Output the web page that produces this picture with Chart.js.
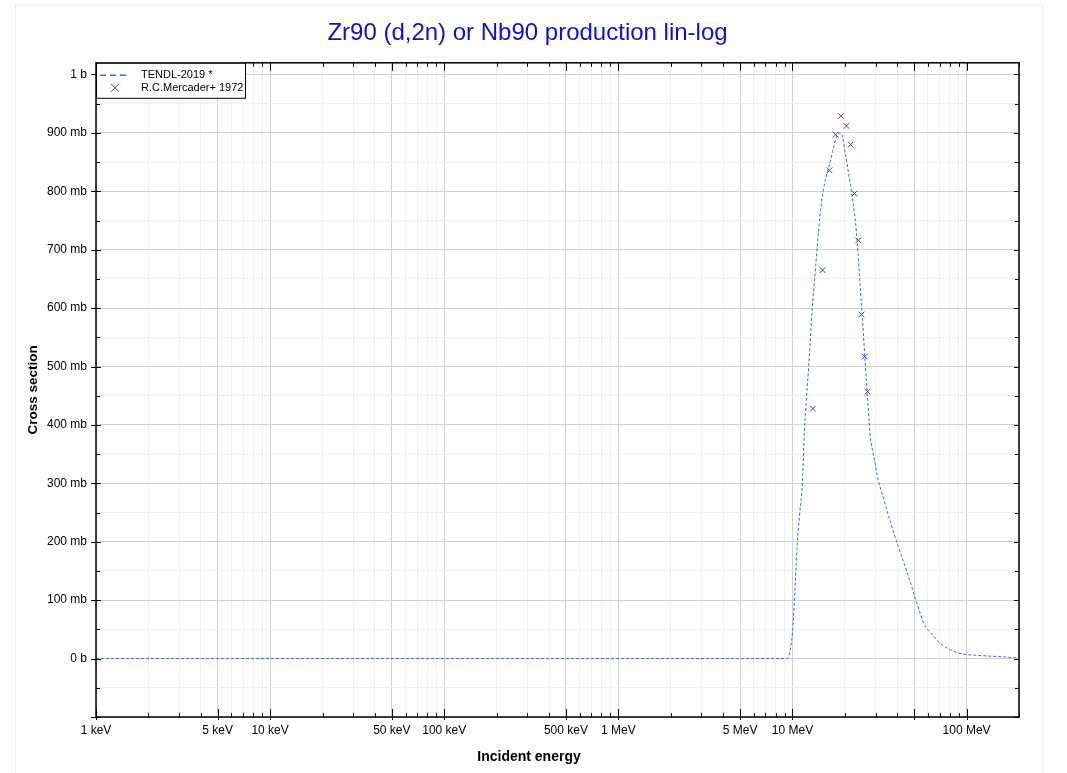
<!DOCTYPE html>
<html>
<head>
<meta charset="utf-8">
<title>Zr90 (d,2n) or Nb90 production lin-log</title>
<script src="https://cdn.jsdelivr.net/npm/chart.js@4"></script>
<style>
  html, body { margin: 0; padding: 0; background: #fff; }
  #moldura { position: absolute; left: 15px; top: 4px; width: 1026px; height: 790px; border: 1px solid #eeeeee; }
  #caixa { position: absolute; left: 0; top: 0; width: 1067px; height: 773px; }
</style>
</head>
<body>
<div id="moldura"></div>
<div id="caixa"><canvas id="secaoChoqueChart"></canvas></div>
<script>
// energias em MeV, secao de choque em mb
const energiasTendl = [0.001, 9.3, 9.6, 10.0, 10.27, 10.6, 10.97, 11.4, 11.7, 12.0, 12.4, 12.9, 13.6, 14.35, 14.7, 15.1, 15.7, 16.4, 17.0, 17.7, 18.2, 19.0, 20.2, 21.1, 22.0, 23.3, 24.4, 25.5, 26.6, 27.5, 28.0, 29.3, 30.7, 33.4, 36.6, 39.9, 45.6, 48.3, 51.0, 53.8, 56.6, 60.5, 64.9, 69.5, 74.5, 81, 88.7, 100, 123, 160, 200];
const secaoTendl = [0, 0, 8, 45, 101, 187, 244, 301, 387, 440, 501, 587, 673, 755, 782, 805, 828, 848, 868, 888, 898, 900, 862, 827, 793, 730, 644, 559, 473, 410, 380, 347, 313, 273, 233, 198, 147, 124, 101, 80, 61, 48, 38, 28, 21, 15, 10, 7, 5, 3, 1];

const energiasMercader = [13.1, 14.9, 16.3, 17.7, 18.95, 20.4, 21.6, 22.7, 23.9, 24.9, 26.0, 27.0];
const secaoMercader = [428, 665, 836, 897, 929, 912, 880, 796, 716, 589, 517, 457];

const xLabelValores = [0.001, 0.005, 0.01, 0.05, 0.1, 0.5, 1, 5, 10, 100];
const xLabelTextos = ["1 keV", "5 keV", "10 keV", "50 keV", "100 keV", "500 keV", "1 MeV", "5 MeV", "10 MeV", "100 MeV"];

const yLabelValores = [0, 100, 200, 300, 400, 500, 600, 700, 800, 900, 1000];
const yLabelTextos = ["0 b", "100 mb", "200 mb", "300 mb", "400 mb", "500 mb", "600 mb", "700 mb", "800 mb", "900 mb", "1 b"];

const legendaTextos = ["TENDL-2019 *", "R.C.Mercader+ 1972"];
const tituloX = "Incident energy";

// posicoes dos ticks (1..9 por decada)
let xTicks = [];
for (let d = -3; d <= 2; d++) {
    for (let m = 1; m <= 9; m++) {
        let v = m * Math.pow(10, d);
        if (v <= 200.0001) xTicks.push(v);
    }
}
let yTicks = [];
for (let v = -100; v <= 1000; v += 50) yTicks.push(v);

function mantissa(v) {
    return Math.round(v / Math.pow(10, Math.floor(Math.log10(v) + 1e-9)));
}
function ehMaiorX(v) {
    let m = mantissa(v);
    return m === 1 || m === 5;
}

const azulLinha = '#4169e1';
const azulCruz = '#3a3af2';

const molduraPlugin = {
    id: 'moldura',
    afterDraw(chart) {
        const ctx = chart.ctx;
        const a = chart.chartArea;
        const xs = chart.scales.x;
        const ys = chart.scales.y;
        ctx.save();
        ctx.strokeStyle = '#000';
        ctx.lineWidth = 1;
        ctx.beginPath();
        xTicks.forEach(v => {
            let px = Math.round(xs.getPixelForValue(v)) + 0.5;
            let dentro = ehMaiorX(v) ? 8 : 4;
            let fora = ehMaiorX(v) ? 3 : 0;
            ctx.moveTo(px, a.bottom + fora);
            ctx.lineTo(px, a.bottom - dentro);
            ctx.moveTo(px, a.top);
            ctx.lineTo(px, a.top + dentro);
        });
        yTicks.forEach(v => {
            let py = Math.round(ys.getPixelForValue(v)) + 0.5;
            let maior = v % 100 === 0;
            ctx.moveTo(a.left - (maior ? 5 : 0), py);
            ctx.lineTo(a.left + (maior ? 5 : 4), py);
            ctx.moveTo(a.right, py);
            ctx.lineTo(a.right - (maior ? 5 : 4), py);
        });
        ctx.stroke();

        ctx.lineWidth = 1.5;
        ctx.strokeRect(a.left, a.top, a.right - a.left, a.bottom - a.top);

        // titulo do eixo x, centrado na pagina como no original
        ctx.fillStyle = '#000';
        ctx.font = 'bold 14px "Liberation Sans", Arial, sans-serif';
        ctx.textAlign = 'center';
        ctx.textBaseline = 'middle';
        ctx.fillText(tituloX, 529, 757);

        // legenda
        let lx = a.left, ly = a.top;
        ctx.fillStyle = '#fff';
        ctx.fillRect(lx, ly, 149, 35);
        ctx.lineWidth = 1;
        ctx.strokeStyle = '#000';
        ctx.strokeRect(lx + 0.5, ly + 0.5, 149, 35);

        ctx.strokeStyle = azulLinha;
        ctx.lineWidth = 1.5;
        ctx.setLineDash([6, 4]);
        ctx.beginPath();
        ctx.moveTo(lx + 4, ly + 12.5);
        ctx.lineTo(lx + 32, ly + 12.5);
        ctx.stroke();
        ctx.setLineDash([]);

        ctx.strokeStyle = azulCruz;
        ctx.lineWidth = 1;
        let cx = lx + 19, cy = ly + 25;
        ctx.beginPath();
        ctx.moveTo(cx - 4, cy - 4); ctx.lineTo(cx + 4, cy + 4);
        ctx.moveTo(cx + 4, cy - 4); ctx.lineTo(cx - 4, cy + 4);
        ctx.stroke();

        ctx.fillStyle = '#000';
        ctx.font = '11px "Liberation Sans", Arial, sans-serif';
        ctx.textBaseline = 'middle';
        ctx.textAlign = 'left';
        ctx.fillText(legendaTextos[0], lx + 45, ly + 12);
        ctx.fillText(legendaTextos[1], lx + 45, ly + 25);
        ctx.restore();
    }
};

Chart.defaults.font.family = '"Liberation Sans", Arial, sans-serif';
Chart.defaults.color = '#000';

var ctx = document.getElementById('secaoChoqueChart').getContext('2d');

var grafico = new Chart(ctx, {
    type: 'scatter',
    data: {
        datasets: [{
            label: legendaTextos[0],
            data: energiasTendl.map((e, i) => ({ x: e, y: secaoTendl[i] })),
            showLine: true,
            borderColor: azulLinha,
            borderWidth: 1,
            borderDash: [3, 2],
            pointRadius: 0,
            cubicInterpolationMode: 'monotone'
        }, {
            label: legendaTextos[1],
            data: energiasMercader.map((e, i) => ({ x: e, y: secaoMercader[i] })),
            showLine: false,
            pointStyle: 'crossRot',
            pointRadius: 4,
            borderColor: azulCruz,
            borderWidth: 1
        }]
    },
    options: {
        responsive: true,
        maintainAspectRatio: false,
        animation: false,
        layout: {
            padding: { left: 0, right: 12, top: 0, bottom: 0 }
        },
        plugins: {
            legend: { display: false },
            tooltip: { enabled: false },
            title: {
                display: true,
                text: 'Zr90 (d,2n) or Nb90 production lin-log',
                color: '#1111cc',
                font: { size: 24, weight: 'normal' },
                padding: { top: 19, bottom: 15 }
            }
        },
        scales: {
            x: {
                type: 'logarithmic',
                min: 0.001,
                max: 200,
                afterBuildTicks: scale => {
                    scale.ticks = xTicks.map(v => ({ value: v }));
                },
                afterFit: scale => { scale.height = 56; },
                ticks: {
                    autoSkip: false,
                    maxRotation: 0,
                    padding: 6,
                    font: { size: 12 },
                    callback: function(value) {
                        for (let i = 0; i < xLabelValores.length; i++) {
                            if (Math.abs(value - xLabelValores[i]) / xLabelValores[i] < 1e-6) return xLabelTextos[i];
                        }
                        return '';
                    }
                },
                grid: {
                    drawTicks: false,
                    color: c => (c.tick && ehMaiorX(c.tick.value)) ? '#d0d0d0' : '#efefef'
                },
                border: { display: false },
                title: { display: false }
            },
            y: {
                type: 'linear',
                min: -100,
                max: 1020,
                afterBuildTicks: scale => {
                    scale.ticks = yTicks.map(v => ({ value: v }));
                },
                afterFit: scale => { scale.width = 96; },
                ticks: {
                    autoSkip: false,
                    padding: 9,
                    font: { size: 12 },
                    callback: function(value) {
                        let i = yLabelValores.indexOf(value);
                        return i >= 0 ? yLabelTextos[i] : '';
                    }
                },
                grid: {
                    drawTicks: false,
                    color: c => (c.tick && c.tick.value % 100 === 0) ? '#d0d0d0' : '#efefef'
                },
                border: { display: false },
                title: {
                    display: true,
                    text: 'Cross section',
                    font: { size: 13.5, weight: 'bold' },
                    padding: { top: 25, bottom: 0 }
                }
            },
            // eixo vazio a direita so para reservar espaco
            yDireita: {
                type: 'linear',
                position: 'right',
                min: -100,
                max: 1020,
                afterFit: scale => { scale.width = 36; },
                ticks: { display: false },
                grid: { display: false, drawOnChartArea: false },
                border: { display: false }
            }
        }
    },
    plugins: [molduraPlugin]
});
</script>
</body>
</html>
